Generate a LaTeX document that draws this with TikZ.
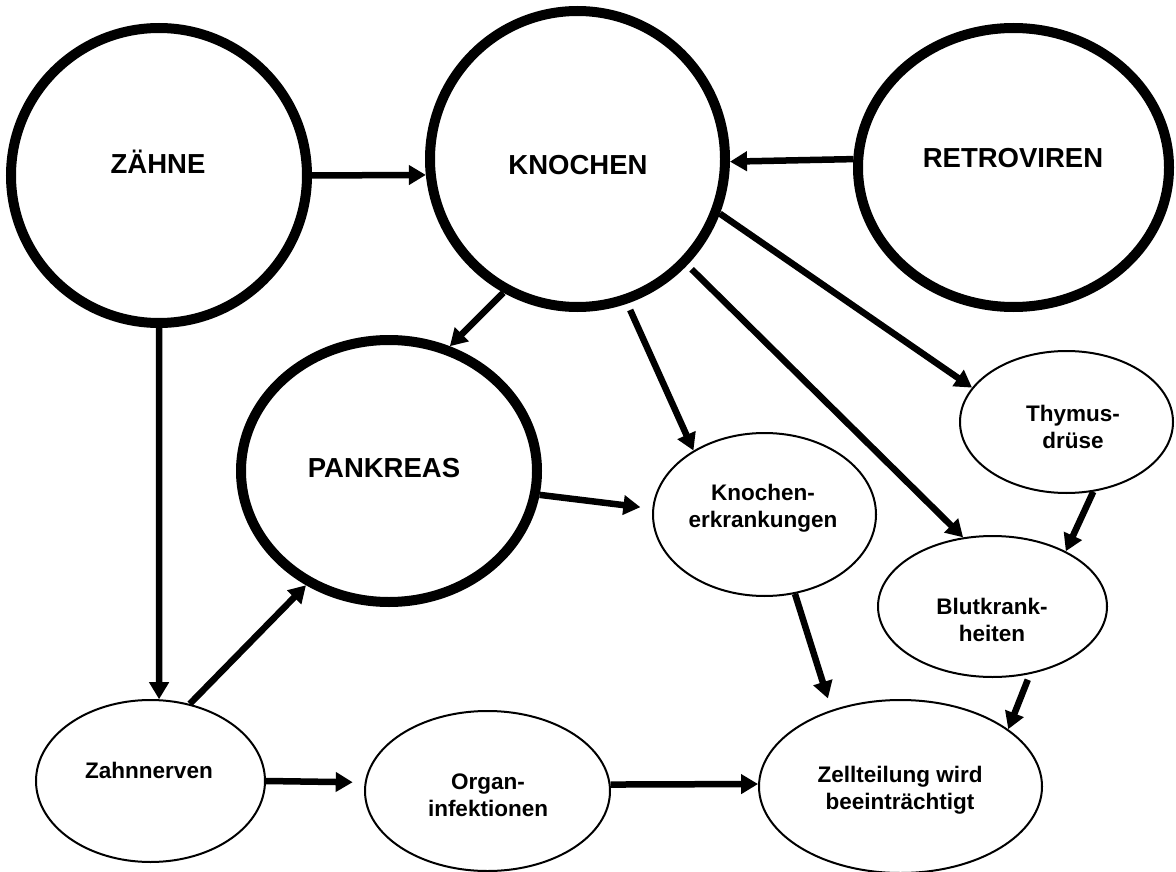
\documentclass[tikz,border=0pt]{standalone}
\usepackage{fontspec}
\setmainfont{Liberation Sans}
\usetikzlibrary{shapes.geometric,arrows.meta}
\begin{document}
\begin{tikzpicture}[x=1pt,y=-1pt,
  bigbox/.style={ellipse,draw,line width=10pt,inner sep=0pt},
  smallbox/.style={ellipse,draw,line width=2pt,inner sep=0pt},
  bigtxt/.style={font=\fontsize{27.5}{33}\selectfont\bfseries},
  smalltxt/.style={font=\fontsize{22.5}{26.5}\selectfont\bfseries,align=center},
  arr/.style={line width=6.5pt,-{Triangle[length=17pt,width=19pt]}}]
\useasboundingbox (0,0) rectangle (1176,872);
% big circles
\node[bigbox,minimum width=296pt,minimum height=295pt] (zaehne) at (159,175.5) {};
\node[bigbox,minimum width=295pt,minimum height=296pt] (knochen) at (577.5,159) {};
\node[bigbox,minimum width=311pt,minimum height=279pt] (retro) at (1013.5,167.5) {};
\node[bigbox,minimum width=296pt,minimum height=262pt] (pankreas) at (389,471) {};
% small ellipses
\node[smallbox,minimum width=223pt,minimum height=163pt] (kerkr) at (764.5,514.5) {};
\node[smallbox,minimum width=213pt,minimum height=142pt] (thymus) at (1066.5,422) {};
\node[smallbox,minimum width=229pt,minimum height=141pt] (blut) at (992.5,606.5) {};
\node[smallbox,minimum width=229pt,minimum height=162pt] (zahn) at (150.5,781) {};
\node[smallbox,minimum width=245pt,minimum height=160pt] (organ) at (487.5,791) {};
\node[smallbox,minimum width=283pt,minimum height=173pt] (zell) at (900.5,786.5) {};
% texts
\node[bigtxt] (zaehne-t) at (158,162) {ZÄHNE};
\node[bigtxt] (knochen-t) at (578,165) {KNOCHEN};
\node[bigtxt] (retro-t) at (1013,158) {RETROVIREN};
\node[bigtxt] (pankreas-t) at (384,468) {PANKREAS};
\node[smalltxt] (kerkr-t) at (763,508) {Knochen-\\erkrankungen};
\node[smalltxt] (thymus-t) at (1073,427) {Thymus-\\drüse};
\node[smalltxt] (blut-t) at (992,620) {Blutkrank-\\heiten};
\node[smalltxt] (zahn-t) at (149,770) {Zahnnerven};
\node[smalltxt] (organ-t) at (488,795) {Organ-\\infektionen};
\node[smalltxt] (zell-t) at (900,790) {Zellteilung wird\\beeinträchtigt};
% connectors
\draw[arr] (zaehne.east) -- (knochen.186.1);
\draw[arr] (retro.177.3) -- (knochen.359.6);
\draw[arr] (zaehne.south) -- (zahn.84.1);
\draw[arr] (knochen.241.6) -- (pankreas.64);
\draw[arr,shorten <=7pt] (knochen.289.9) -- (kerkr.138.8);
\draw[arr,shorten <=6pt] (knochen.316.7) -- (blut.113.9);
\draw[arr] (knochen.339.9) -- (thymus.160.1);
\draw[arr,shorten >=12pt] (pankreas.351.7) -- (kerkr.177);
\draw[arr] (thymus.291.3) -- (blut.37.2);
\draw[arr,shorten >=12pt] (kerkr.291.2) -- (zell.132.2);
\draw[arr,shorten <=6pt] (blut.299.5) -- (zell.28.2);
\draw[arr] (zahn.63.2) -- (pankreas.234.1);
\draw[arr,shorten >=12pt] (zahn.east) -- (organ.176.2);
\draw[arr] (organ.3.2) -- (zell.179);
\end{tikzpicture}
\end{document}
